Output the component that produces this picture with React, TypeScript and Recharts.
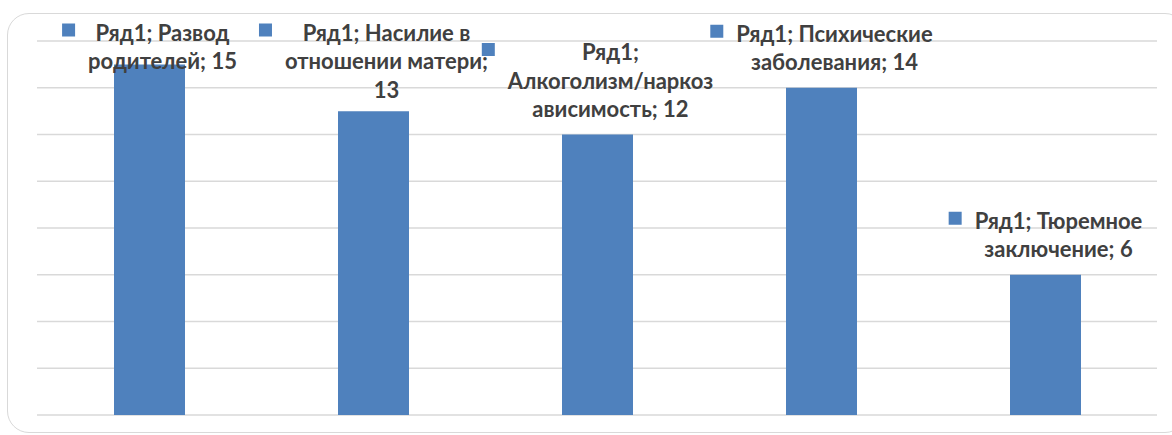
import React from 'react';
import { BarChart, Bar, XAxis, YAxis, CartesianGrid, LabelList } from 'recharts';

const categories = [
  'Развод родителей',
  'Насилие в отношении матери',
  'Алкоголизм/наркозависимость',
  'Психические заболевания',
  'Тюремное заключение',
];
const values = [15, 13, 12, 14, 6];
const labelLines = [
  ['Ряд1; Развод', 'родителей; 15'],
  ['Ряд1; Насилие в', 'отношении матери;', '13'],
  ['Ряд1;', 'Алкоголизм/наркоз', 'ависимость; 12'],
  ['Ряд1; Психические', 'заболевания; 14'],
  ['Ряд1; Тюремное', 'заключение; 6'],
];
const yTicks = [0, 2, 4, 6, 8, 10, 12, 14, 16];

const data = categories.map((name, i) => ({ name, value: values[i] }));

const BLUE = '#4f81bd';
const FONT = 'bold 22px Lato';
const LH = 28.5;

let ctx: CanvasRenderingContext2D | null = null;
const measure = (s: string) => {
  if (!ctx) ctx = document.createElement('canvas').getContext('2d');
  if (!ctx) return s.length * 11;
  ctx.font = FONT;
  return ctx.measureText(s).width;
};

const DataLabel = (props: any) => {
  const { x, y, width, index } = props;
  const lines = labelLines[index];
  const cx = x + width / 2;
  const textW = Math.max(...lines.map(measure));
  const blockW = 13 + 13 + textW;
  const left = cx - blockW / 2;
  const textCx = left + 26 + textW / 2;
  const last = y - 25;
  const first = Math.max(last - (lines.length - 1) * LH, 33);
  return (
    <g>
      <rect x={left} y={first - 9.5} width={13} height={13} fill={BLUE} />
      {lines.map((l, i) => (
        <text
          key={i}
          x={textCx}
          y={first + i * LH + 7.5}
          textAnchor="middle"
          fill="#404040"
          style={{ font: FONT }}
        >
          {l}
        </text>
      ))}
    </g>
  );
};

export default function App() {
  return (
    <div style={{ position: 'fixed', left: 0, top: 0, width: 1172, height: 435, overflow: 'hidden', background: '#fff' }}>
      <div
        style={{
          position: 'absolute',
          left: 7,
          top: 13,
          width: 1180,
          height: 420,
          border: '1.5px solid #d9d9d9',
          borderRadius: 22,
          boxSizing: 'border-box',
        }}
      />
      <div style={{ position: 'absolute', left: 0, top: 0 }}>
        <BarChart width={1172} height={435} data={data} margin={{ top: 41, right: 15, bottom: 20, left: 37 }}>
          <CartesianGrid vertical={false} stroke="#d9d9d9" strokeWidth={1.5} />
          <XAxis dataKey="name" hide />
          <YAxis hide domain={[0, 16]} ticks={yTicks} />
          <Bar dataKey="value" fill={BLUE} barSize={71} isAnimationActive={false}>
            <LabelList dataKey="value" content={DataLabel} />
          </Bar>
        </BarChart>
      </div>
    </div>
  );
}
